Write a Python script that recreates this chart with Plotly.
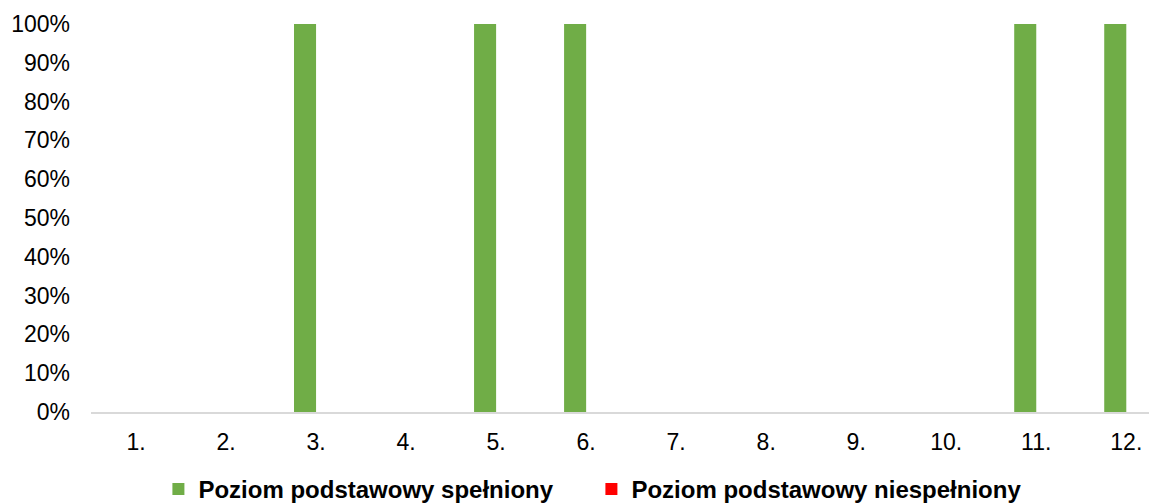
import plotly.graph_objects as go

categories = ["1.", "2.", "3.", "4.", "5.", "6.", "7.", "8.", "9.", "10.", "11.", "12."]
spelniony = [0, 0, 1, 0, 1, 1, 0, 0, 0, 0, 1, 1]
niespelniony = [0, 0, 0, 0, 0, 0, 0, 0, 0, 0, 0, 0]
y_ticks = [0, 0.1, 0.2, 0.3, 0.4, 0.5, 0.6, 0.7, 0.8, 0.9, 1.0]

fig = go.Figure()
fig.add_trace(go.Bar(x=categories, y=spelniony, name="Poziom podstawowy spełniony",
                     marker=dict(color="#70AD47", line=dict(width=0))))
fig.add_trace(go.Bar(x=categories, y=niespelniony, name="Poziom podstawowy niespełniony",
                     marker=dict(color="#FF0000", line=dict(width=0))))

fig.update_layout(
    width=1157, height=504,
    margin=dict(l=83, r=0, t=16, b=100, autoexpand=False),
    paper_bgcolor="white", plot_bgcolor="white",
    barmode="group", bargap=0.51, bargroupgap=0,
    font=dict(family="Liberation Sans, Arial, sans-serif", size=23, color="#000000"),
    showlegend=True,
    legend=dict(orientation="h", xref="container", yref="container",
                x=0.13, y=0.0, xanchor="left", yanchor="bottom",
                font=dict(size=24, color="#000000", family="Liberation Sans, Arial, sans-serif", weight="bold"),
                entrywidth=388, entrywidthmode="pixels", itemwidth=30,
                bgcolor="rgba(0,0,0,0)"),
    xaxis=dict(range=[-0.5, 11.43], showgrid=False, showline=True, linecolor="#D9D9D9",
               linewidth=1.5, ticks="", ticklabelstandoff=9, zeroline=False, fixedrange=True,
               automargin=False),
    yaxis=dict(range=[0, 1], tickvals=y_ticks, tickformat=".0%", showgrid=False,
               showline=False, zeroline=False, ticks="", ticklabelstandoff=20, fixedrange=True,
               automargin=False),
)

fig.write_html("out.html")
